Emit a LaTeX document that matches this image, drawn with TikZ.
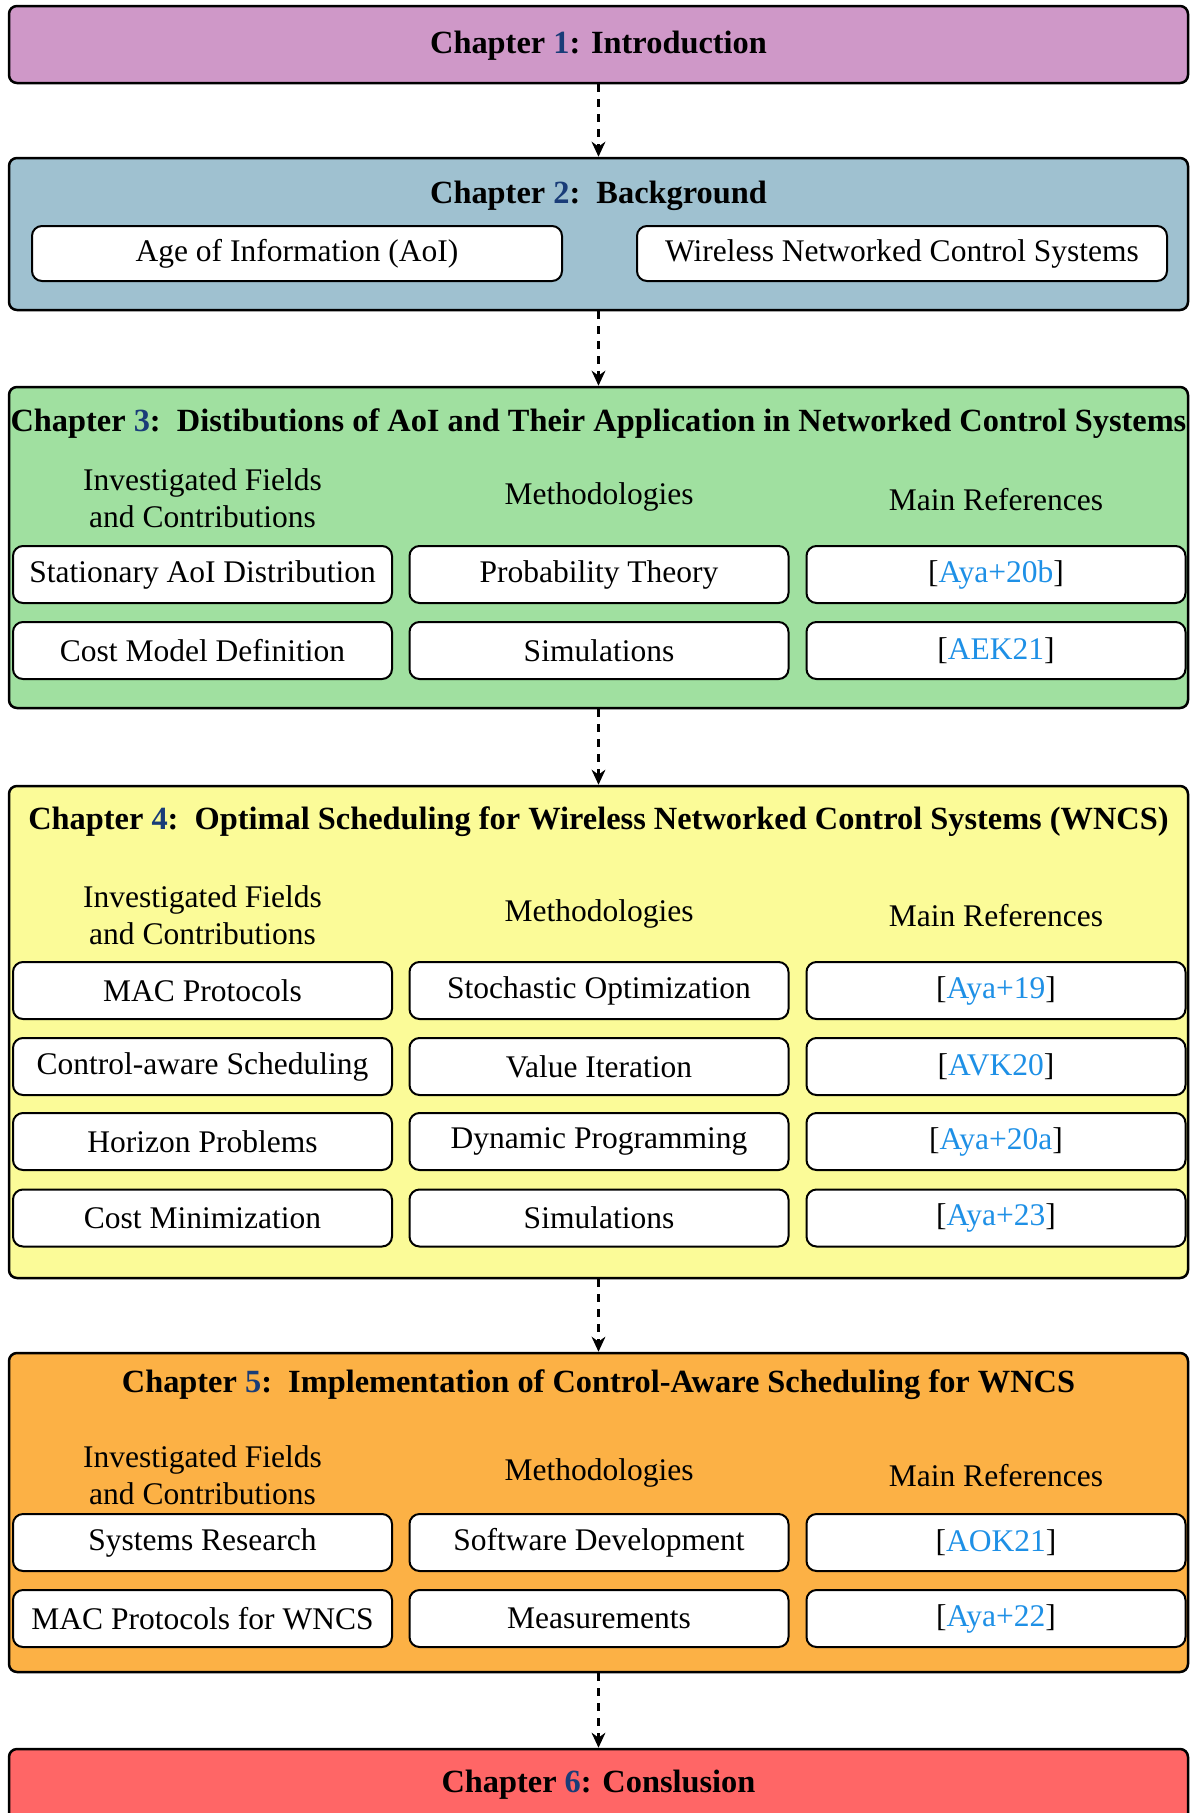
\documentclass[tikz,border=0pt]{standalone}
\usepackage{fontspec}
\setmainfont{Liberation Serif}
\usetikzlibrary{arrows.meta, positioning}
\definecolor{chintro}{RGB}{207,152,200}
\definecolor{chback}{RGB}{159,193,208}
\definecolor{chdist}{RGB}{160,224,160}
\definecolor{chsched}{RGB}{251,251,152}
\definecolor{chimpl}{RGB}{252,177,69}
\definecolor{chconc}{RGB}{255,102,102}
\definecolor{numblue}{RGB}{25,60,120}
\definecolor{refblue}{RGB}{30,144,230}
\tikzset{
	chbox/.style={draw, line width=1pt, rounded corners=3.2pt, minimum width=1179*0.4pt}
}
\tikzset{
	subbox/.style={draw, fill=white, thick, rounded corners=4pt, minimum height=57*0.4pt, minimum width=379*0.4pt, inner sep=0pt}
}
\tikzset{
	chtitle/.style={font=\fontsize{12.95}{15}\selectfont\bfseries},
	bodytext/.style={font=\fontsize{12.6}{15}\selectfont, align=center},
	flow/.style={line width=1pt, dashed, -{Stealth[length=6pt, width=5.5pt]}}
}
\newcommand{\chnum}[1]{\textcolor{numblue}{#1}}
\newcommand{\bibref}[1]{[\textcolor{refblue}{#1}]}

\begin{document}
\begin{tikzpicture}[x=0.4pt, y=-0.4pt]
      \useasboundingbox (0,0) rectangle (1189,1813);
      % chapter frames
      \node[chbox, fill=chintro, minimum height=77*0.4pt] (ch1) at (598.5,44.5) {};
      \node[chbox, fill=chback, minimum height=152*0.4pt] (ch2) at (598.5,234) {};
      \node[chbox, fill=chdist, minimum height=321*0.4pt] (ch3) at (598.5,547.5) {};
      \node[chbox, fill=chsched, minimum height=492*0.4pt] (ch4) at (598.5,1032) {};
      \node[chbox, fill=chimpl, minimum height=319*0.4pt] (ch5) at (598.5,1512.5) {};
      \node[chbox, fill=chconc, minimum height=77*0.4pt] (ch6) at (598.5,1787.5) {};
      % chapter titles
      \node[chtitle] (t1) at (598.5,46) {Chapter \chnum{1}: Introduction};
      \node[chtitle] (t2) at (598.5,196) {Chapter \chnum{2}:\ \ Background};
      \node[chtitle] (t3) at (598.5,424) {Chapter \chnum{3}:\ \ Distibutions of AoI and Their Application in Networked Control Systems};
      \node[chtitle] (t4) at (598.5,822) {Chapter \chnum{4}:\ \ Optimal Scheduling for Wireless Networked Control Systems (WNCS)};
      \node[chtitle] (t5) at (598.5,1385) {Chapter \chnum{5}:\ \ Implementation of Control-Aware Scheduling for WNCS};
      \node[chtitle] (t6) at (598.5,1785) {Chapter \chnum{6}: Conslusion};
      % chapter 2
      \node[subbox, bodytext, minimum width=530*0.4pt, minimum height=55*0.4pt] (aoi) at (297,253.5) {Age of Information (AoI)};
      \node[subbox, bodytext, minimum width=530*0.4pt, minimum height=55*0.4pt] (wncs) at (902,253.5) {Wireless Networked Control Systems};
      % chapter 3
      \node[bodytext] (h3f) at (202.5,498) {Investigated Fields\\and Contributions};
      \node[bodytext] (h3m) at (599,497) {Methodologies};
      \node[bodytext] (h3r) at (996,500) {Main References};
      \node[subbox, bodytext] (f31) at (202.5,574.5) {Stationary AoI Distribution};
      \node[subbox, bodytext] (m31) at (599,574.5) {Probability Theory};
      \node[subbox, bodytext] (r31) at (996,574.5) {\bibref{Aya+20b}};
      \node[subbox, bodytext] (f32) at (202.5,650.5) {Cost Model Definition};
      \node[subbox, bodytext] (m32) at (599,650.5) {Simulations};
      \node[subbox, bodytext] (r32) at (996,650.5) {\bibref{AEK21}};
      % chapter 4
      \node[bodytext] (h4f) at (202.5,915) {Investigated Fields\\and Contributions};
      \node[bodytext] (h4m) at (599,914) {Methodologies};
      \node[bodytext] (h4r) at (996,916) {Main References};
      \node[subbox, bodytext] (f41) at (202.5,990.5) {MAC Protocols};
      \node[subbox, bodytext] (m41) at (599,990.5) {Stochastic Optimization};
      \node[subbox, bodytext] (r41) at (996,990.5) {\bibref{Aya+19}};
      \node[subbox, bodytext] (f42) at (202.5,1066.5) {Control-aware Scheduling};
      \node[subbox, bodytext] (m42) at (599,1066.5) {Value Iteration};
      \node[subbox, bodytext] (r42) at (996,1066.5) {\bibref{AVK20}};
      \node[subbox, bodytext] (f43) at (202.5,1141.5) {Horizon Problems};
      \node[subbox, bodytext] (m43) at (599,1141.5) {Dynamic Programming};
      \node[subbox, bodytext] (r43) at (996,1141.5) {\bibref{Aya+20a}};
      \node[subbox, bodytext] (f44) at (202.5,1218) {Cost Minimization};
      \node[subbox, bodytext] (m44) at (599,1218) {Simulations};
      \node[subbox, bodytext] (r44) at (996,1218) {\bibref{Aya+23}};
      % chapter 5
      \node[bodytext] (h5f) at (202.5,1475) {Investigated Fields\\and Contributions};
      \node[bodytext] (h5m) at (599,1473) {Methodologies};
      \node[bodytext] (h5r) at (996,1476) {Main References};
      \node[subbox, bodytext] (f51) at (202.5,1542.5) {Systems Research};
      \node[subbox, bodytext] (m51) at (599,1542.5) {Software Development};
      \node[subbox, bodytext] (r51) at (996,1542.5) {\bibref{AOK21}};
      \node[subbox, bodytext] (f52) at (202.5,1618.5) {MAC Protocols for WNCS};
      \node[subbox, bodytext] (m52) at (599,1618.5) {Measurements};
      \node[subbox, bodytext] (r52) at (996,1618.5) {\bibref{Aya+22}};
      % reading order
      \draw[flow] (ch1) -- (ch2);
      \draw[flow] (ch2) -- (ch3);
      \draw[flow] (ch3) -- (ch4);
      \draw[flow] (ch4) -- (ch5);
      \draw[flow] (ch5) -- (ch6);
    \end{tikzpicture}
\end{document}
